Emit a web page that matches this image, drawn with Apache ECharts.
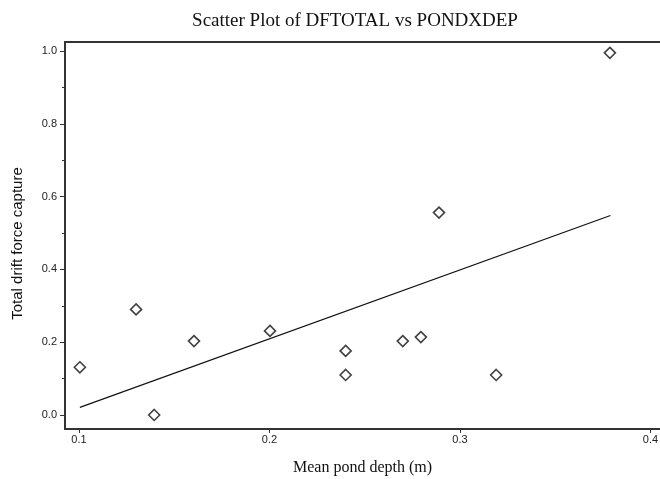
<!DOCTYPE html>
<html>
<head>
<meta charset="utf-8">
<script src="https://cdn.jsdelivr.net/npm/echarts@6/dist/echarts.min.js"></script>
<style>
  html, body { margin: 0; padding: 0; background: #fff; }
  #chart { width: 660px; height: 479px; }
</style>
</head>
<body>
<div id="chart"></div>
<script>
// Values
const pondDepth = [0.1005, 0.130, 0.1395, 0.1604, 0.2003, 0.240, 0.240, 0.270, 0.2795, 0.289, 0.319, 0.3787];
const driftCapture = [0.131, 0.290, 0.000, 0.203, 0.231, 0.176, 0.110, 0.203, 0.214, 0.556, 0.110, 0.995];

// Fitted line end points, as drawn in the reference
const fitX = [0.1005, 0.3790];
const fitY = [0.021, 0.548];

const xTicks = [0.1, 0.2, 0.3, 0.4];
const yTicks = [0.0, 0.2, 0.4, 0.6, 0.8, 1.0];
const yMinorTicks = [0.1, 0.3, 0.5, 0.7, 0.9];

const chart = echarts.init(document.getElementById('chart'));

const axisColor = '#333';
const labelFont = '"Liberation Sans", Arial, sans-serif';
const serifFont = '"Liberation Serif", "Times New Roman", serif';

const option = {
  animation: false,
  backgroundColor: '#fff',
  title: {
    text: 'Scatter Plot of DFTOTAL vs PONDXDEP',
    left: 350,
    textAlign: 'center',
    top: 7,
    textStyle: {
      fontFamily: serifFont,
      fontSize: 19,
      fontWeight: 'normal',
      color: '#111',
    },
  },
  grid: {
    left: 65,
    right: 0,
    top: 42,
    bottom: 50,
    containLabel: false,
    outerBoundsMode: 'none',
  },
  xAxis: [
    {
      type: 'value',
      min: 0.0927,
      max: 0.405,
      name: 'Mean pond depth (m)',
      nameLocation: 'middle',
      nameGap: 31,
      nameTextStyle: {
        fontFamily: serifFont,
        fontSize: 16,
        color: '#111',
      },
      axisLine: { show: true, onZero: false, lineStyle: { color: axisColor, width: 2 } },
      axisTick: { show: true, customValues: xTicks, length: 4, lineStyle: { color: axisColor } },
      axisLabel: {
        customValues: xTicks,
        formatter: (v) => v.toFixed(1),
        fontFamily: labelFont,
        fontSize: 11,
        color: '#222',
        margin: 5,
      },
      splitLine: { show: false },
    },
    {
      // top border line
      type: 'value',
      position: 'top',
      min: 0.0927,
      max: 0.405,
      axisLine: { show: true, onZero: false, lineStyle: { color: axisColor, width: 2 } },
      axisTick: { show: false },
      axisLabel: { show: false },
      splitLine: { show: false },
    },
  ],
  yAxis: [
    {
      type: 'value',
      min: -0.0385,
      max: 1.0247,
      name: 'Total drift force capture',
      nameLocation: 'middle',
      nameGap: 40,
      nameTextStyle: {
        fontFamily: labelFont,
        fontSize: 15,
        color: '#111',
        padding: [0, 16, 0, 0],
      },
      axisLine: { show: true, onZero: false, lineStyle: { color: axisColor, width: 2 } },
      axisTick: { show: true, customValues: yTicks, length: 5, lineStyle: { color: axisColor } },
      axisLabel: {
        customValues: yTicks,
        formatter: (v) => v.toFixed(1),
        fontFamily: labelFont,
        fontSize: 11,
        color: '#222',
        margin: 8,
      },
      splitLine: { show: false },
    },
    {
      // minor ticks
      type: 'value',
      position: 'left',
      min: -0.0385,
      max: 1.0247,
      axisLine: { show: false, onZero: false },
      axisTick: { show: true, customValues: yMinorTicks, length: 3, lineStyle: { color: axisColor } },
      axisLabel: { show: false },
      splitLine: { show: false },
    },
  ],
  series: [
    {
      name: 'Observed',
      type: 'scatter',
      data: pondDepth.map((x, i) => [x, driftCapture[i]]),
      symbol: 'diamond',
      symbolSize: 11,
      itemStyle: {
        color: '#fff',
        borderColor: '#111',
        borderWidth: 1.6,
      },
      z: 3,
    },
    {
      name: 'Fit',
      type: 'line',
      data: fitX.map((x, i) => [x, fitY[i]]),
      showSymbol: false,
      symbol: 'none',
      lineStyle: { color: '#111', width: 1.2 },
      z: 2,
    },
  ],
};

chart.setOption(option);
</script>
</body>
</html>
